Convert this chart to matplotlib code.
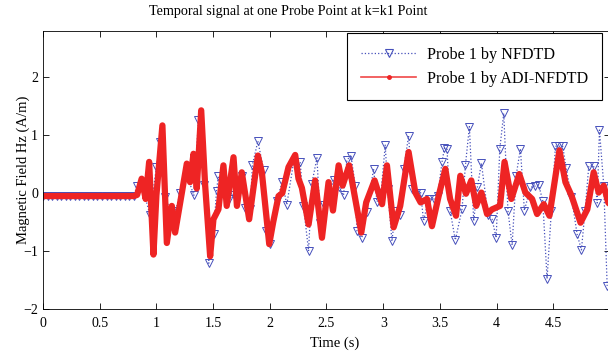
import numpy as np
import matplotlib.pyplot as plt
from matplotlib.lines import Line2D

plt.rcParams['font.family'] = ['Liberation Serif', 'DejaVu Serif']

# ADI-NFDTD probe signal (red)
t_adi = [0.0, 0.80, 0.83, 0.87, 0.905, 0.936, 0.974, 1.0, 1.053, 1.092,
         1.136, 1.165, 1.21, 1.268, 1.297, 1.327, 1.356, 1.395, 1.43, 1.474,
         1.503, 1.547, 1.591, 1.62, 1.68, 1.71, 1.753, 1.818, 1.895, 1.93,
         1.995, 2.03, 2.077, 2.11, 2.165, 2.224, 2.253, 2.283, 2.342, 2.4,
         2.46, 2.518, 2.557, 2.607, 2.642, 2.7, 2.807, 2.85, 2.924, 2.99,
         3.033, 3.092, 3.15, 3.224, 3.283, 3.33, 3.386, 3.43, 3.49, 3.548,
         3.59, 3.642, 3.68, 3.73, 3.777, 3.82, 3.866, 3.916, 3.96, 4.03,
         4.07, 4.13, 4.2, 4.254, 4.313, 4.357, 4.416, 4.466, 4.554, 4.607,
         4.66, 4.74, 4.8, 4.856, 4.9, 4.945, 4.984, 5.0]
hz_adi = [-0.05, -0.05, -0.03, 0.25, -0.1, 0.54, -1.06, -0.04, 1.17, -0.86,
          -0.22, -0.68, -0.16, 0.51, 0.19, 0.68, 0.08, 1.43, 0.13, -1.09,
          -0.45, -0.28, 0.48, -0.22, 0.62, -0.22, 0.36, -0.45, 0.65, 0.36,
          -0.88, -0.5, -0.05, 0.0, 0.45, 0.66, 0.25, 0.09, -0.54, 0.22,
          -0.77, 0.19, -0.3, 0.48, 0.13, 0.48, -0.68, -0.16, 0.22, -0.19,
          0.48, -0.59, -0.22, 0.71, 0.01, -0.16, -0.1, -0.57, -0.04, 0.42,
          -0.1, -0.39, 0.3, -0.01, 0.22, -0.22, 0.01, -0.36, -0.28, -0.22,
          0.54, -0.1, 0.33, 0.01, -0.1, -0.36, -0.19, -0.39, 0.74, 0.19,
          -0.04, -0.51, -0.28, 0.36, 0.01, 0.13, -0.16, -0.2]

# NFDTD probe signal (blue triangles)
t_flat = np.arange(0, 0.81, 0.04)
hz_flat = [-0.05] * len(t_flat)
t_nf = [0.83, 0.88, 0.944, 1.0, 1.033, 1.08, 1.13, 1.17, 1.21, 1.268,
        1.33, 1.371, 1.42, 1.462, 1.504, 1.53, 1.547, 1.59, 1.64, 1.68,
        1.72, 1.759, 1.78, 1.827, 1.847, 1.895, 1.945, 1.965, 2.004, 2.062,
        2.11, 2.15, 2.21, 2.268, 2.297, 2.342, 2.37, 2.416, 2.445, 2.48,
        2.518, 2.562, 2.61, 2.65, 2.68, 2.716, 2.753, 2.768, 2.812, 2.856,
        2.915, 2.945, 2.98, 3.018, 3.04, 3.077, 3.107, 3.15, 3.18, 3.224,
        3.254, 3.29, 3.33, 3.356, 3.4, 3.45, 3.48, 3.519, 3.54, 3.563,
        3.59, 3.636, 3.695, 3.725, 3.76, 3.798, 3.83, 3.866, 3.925, 3.96,
        3.996, 4.028, 4.063, 4.1, 4.137, 4.172, 4.21, 4.245, 4.298, 4.335,
        4.371, 4.407, 4.445, 4.483, 4.519, 4.548, 4.583, 4.613, 4.66, 4.71,
        4.748, 4.78, 4.813, 4.856, 4.887, 4.907, 4.945, 4.975]
hz_nf = [0.13, 0.08, -0.38, 0.45, 0.88, -0.07, -0.35, -0.3, 0.01, 0.33,
         -0.04, 1.26, 0.14, -1.21, -0.71, 0.04, 0.3, 0.2, -0.1, -0.04,
         0.1, 0.3, -0.25, -0.28, 0.49, 0.9, 0.4, -0.65, -0.88, -0.13,
         0.2, -0.2, 0.54, 0.54, -0.22, -1.0, 0.16, 0.61, -0.51, -0.2,
         -0.04, 0.22, 0.1, -0.04, 0.57, 0.65, 0.13, -0.65, -0.77, -0.33,
         0.42, -0.15, 0.0, 0.83, 0.07, -0.83, -0.3, -0.38, 0.41, 0.99,
         0.08, 0.0, 0.01, -0.48, -0.1, -0.1, -0.05, 0.54, 0.78, 0.76,
         -0.3, -0.81, -0.28, 0.48, 1.15, -0.48, 0.1, 0.52, -0.38, -0.45,
         -0.77, 0.76, 1.38, -0.3, -0.9, 0.3, 0.77, -0.3, 0.1, 0.12,
         0.14, -0.13, -1.48, -0.3, 0.81, 0.81, 0.81, 0.43, -0.06, -0.71,
         -0.98, -0.3, 0.47, 0.47, -0.17, 1.09, 0.13, -1.6]

t_blue = list(t_flat) + t_nf
hz_blue = hz_flat + hz_nf

x_ticks = [0, 0.5, 1, 1.5, 2, 2.5, 3, 3.5, 4, 4.5]
x_tick_labels = ['0', '0.5', '1', '1.5', '2', '2.5', '3', '3.5', '4', '4.5']
y_ticks = [-2, -1, 0, 1, 2]

blue = '#4650bb'
red = '#ee2424'

fig = plt.figure(figsize=(6.08, 3.52), dpi=100)
ax = fig.add_axes([43 / 608, 43 / 352, 567 / 608, 278 / 352])

ax.plot(t_blue, hz_blue, ':', color=blue, lw=0.9, marker='v', ms=5.5,
        mfc='none', mec=blue, mew=0.7)
ax.plot(t_adi, hz_adi, '-', color=red, lw=4.5, solid_joinstyle='round',
        solid_capstyle='round')

ax.set_xlim(0, 5)
ax.set_ylim(-2, 2.8)
ax.set_xticks(x_ticks)
ax.set_xticklabels(x_tick_labels)
ax.set_yticks(y_ticks)
ax.tick_params(direction='in', top=True, right=True, length=4, width=0.6,
               labelsize=10)
ax.tick_params(axis='x', pad=6)
for s in ax.spines.values():
    s.set_linewidth(0.6)

fig.text(288 / 608, 1 - 12 / 352, 'Temporal signal at one Probe Point at k=k1 Point',
         fontsize=10.2, ha='center', va='center')
fig.text(335 / 608, 1 - 343 / 352, 'Time (s)', fontsize=10.5,
         ha='center', va='center')
ax.set_ylabel('Magnetic Field Hz (A/m)', fontsize=10.5, labelpad=6)
ax.yaxis.set_label_coords(-13 / 567, 0.5)

handles = [
    Line2D([], [], ls=':', color=blue, lw=0.9, marker='v', ms=6, mfc='none',
           mec=blue, mew=0.8),
    Line2D([], [], ls='-', color='#f04848', lw=1.2, marker='.', ms=5,
           mfc=red, mec=red),
]
labels = ['Probe 1 by NFDTD', 'Probe 1 by ADI-NFDTD']
leg = ax.legend(handles, labels, loc='upper right',
                bbox_to_anchor=(602 / 608, 1 - 33 / 352),
                bbox_transform=fig.transFigure, fontsize=11.6, frameon=True,
                fancybox=False, edgecolor='black', framealpha=1,
                handlelength=3.4, handletextpad=0.7, borderpad=0.85,
                labelspacing=0.5, borderaxespad=0)
leg.get_frame().set_linewidth(0.8)

fig.savefig('out.png', dpi=100)
